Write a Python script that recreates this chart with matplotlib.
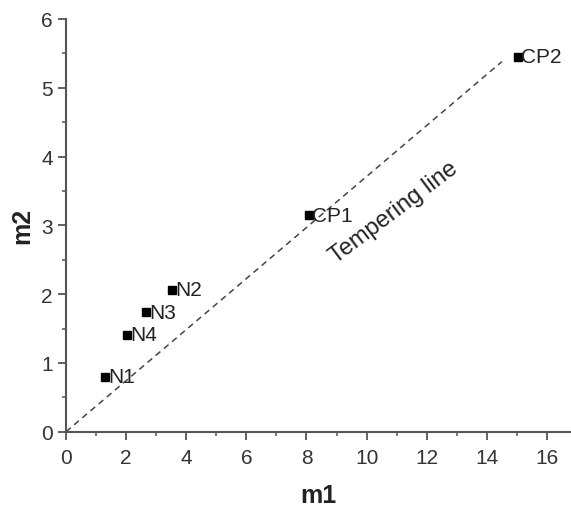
import matplotlib
matplotlib.use("Agg")
import matplotlib.pyplot as plt
from matplotlib.ticker import MultipleLocator

plt.rcParams['font.family'] = ['Liberation Sans', 'DejaVu Sans']

names = ["N1", "N4", "N3", "N2", "CP1", "CP2"]
m1 = [1.30, 2.02, 2.65, 3.53, 8.07, 15.03]
m2 = [0.80, 1.41, 1.74, 2.06, 3.15, 5.45]
line_x = [0.0, 14.5]
line_y = [0.0, 5.38]

fig = plt.figure(figsize=(5.71, 5.10), dpi=100)
ax = fig.add_axes([0.1156, 0.1516, 0.8844, 0.8092])

ax.plot(line_x, line_y, linestyle=(0, (4, 3)), color="#444444", linewidth=1.1)
ax.plot(m1, m2, linestyle="none", marker="s", markersize=5.5, color="black")
for n, x, y in zip(names, m1, m2):
    ax.annotate(n, (x, y), xytext=(2.5, 0), textcoords="offset points",
                va="center", ha="left", fontsize=15, color="#222222")

ax.text(10.9, 3.2, "Tempering line", rotation=37, rotation_mode="anchor",
        ha="center", va="center", fontsize=17, color="#222222")

ax.set_xlim(0, 16.8)
ax.set_ylim(0, 6)
ax.xaxis.set_major_locator(MultipleLocator(2))
ax.xaxis.set_minor_locator(MultipleLocator(1))
ax.yaxis.set_major_locator(MultipleLocator(1))
ax.yaxis.set_minor_locator(MultipleLocator(0.5))
for s in ("top", "right"):
    ax.spines[s].set_visible(False)
for s in ("left", "bottom"):
    ax.spines[s].set_color("#555555")
    ax.spines[s].set_linewidth(1.5)
ax.tick_params(which="major", length=6, width=1.3, color="#555555",
               labelsize=15, labelcolor="#333333")
ax.tick_params(axis="x", which="major", pad=6)
ax.tick_params(which="minor", length=3, width=1.1, color="#555555")
ax.set_xlabel("m1", fontsize=18, fontweight="bold", labelpad=11, color="#222222")
ax.set_ylabel("m2", fontsize=18, fontweight="bold", labelpad=5, color="#222222")

fig.savefig("out.png", dpi=100)
